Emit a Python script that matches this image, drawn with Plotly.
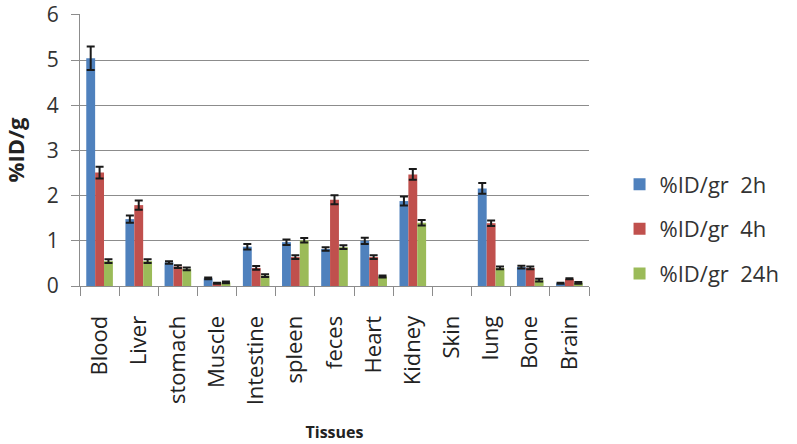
import plotly.graph_objects as go

tissues = ["Blood", "Liver", "stomach", "Muscle", "Intestine", "spleen", "feces",
           "Heart", "Kidney", "Skin", "lung", "Bone", "Brain"]

id_2h = [5.04, 1.48, 0.52, 0.17, 0.87, 0.97, 0.82, 1.00, 1.88, None, 2.16, 0.42, 0.06]
err_2h = [0.26, 0.08, 0.03, 0.02, 0.06, 0.06, 0.04, 0.07, 0.10, None, 0.12, 0.03, 0.01]

id_4h = [2.51, 1.79, 0.43, 0.06, 0.40, 0.64, 1.91, 0.64, 2.47, None, 1.39, 0.40, 0.16]
err_4h = [0.13, 0.10, 0.03, 0.01, 0.04, 0.04, 0.10, 0.04, 0.12, None, 0.06, 0.03, 0.01]

id_24h = [0.55, 0.55, 0.38, 0.08, 0.23, 1.01, 0.86, 0.21, 1.40, None, 0.40, 0.13, 0.07]
err_24h = [0.04, 0.04, 0.03, 0.02, 0.03, 0.05, 0.04, 0.02, 0.06, None, 0.03, 0.03, 0.02]

series_names = ["%ID/gr\u00a0 2h", "%ID/gr\u00a0 4h", "%ID/gr\u00a0 24h"]
colors = ["#4F81BD", "#C0504D", "#9BBB59"]

fig = go.Figure()
for name, vals, errs, col in zip(series_names, [id_2h, id_4h, id_24h],
                                 [err_2h, err_4h, err_24h], colors):
    fig.add_trace(go.Bar(
        x=tissues, y=vals, name=name, legendgroup=name,
        marker=dict(color=col, line=dict(width=0)),
        error_y=dict(type="data", array=errs, visible=True,
                     color="#1a1a1a", thickness=2, width=4),
    ))

font_family = "Open Sans"
fig.update_layout(
    width=797, height=444,
    margin=dict(l=80, r=183, t=14, b=158),
    paper_bgcolor="white", plot_bgcolor="white",
    barmode="group", bargap=0.32, bargroupgap=0,
    font=dict(family=font_family, color="#333333"),
    showlegend=True,
    legend=dict(
        x=1.06, xanchor="left", y=0.21, yanchor="middle",
        font=dict(size=22, color="#333333", family=font_family),
        traceorder="grouped", tracegroupgap=13,
        bgcolor="rgba(0,0,0,0)", borderwidth=0,
    ),
    xaxis=dict(
        type="category", categoryorder="array", categoryarray=tissues,
        tickangle=-90, tickson="boundaries",
        ticks="outside", ticklen=9, tickcolor="#8c8c8c",
        showline=True, linecolor="#8c8c8c", linewidth=1,
        showgrid=False,
        tickfont=dict(size=22, color="#222222", family=font_family),
        ticklabelstandoff=20,
        title=dict(text="<b>Tissues</b>", font=dict(size=16, color="#222222", family=font_family),
                   standoff=22),
        automargin=False,
    ),
    yaxis=dict(
        range=[0, 6.02], tickmode="linear", dtick=1, tick0=0,
        showgrid=True, gridcolor="#8c8c8c", gridwidth=1,
        showline=True, linecolor="#8c8c8c", linewidth=1,
        ticks="outside", ticklen=8, tickcolor="#8c8c8c",
        tickfont=dict(size=21, color="#333333", family=font_family),
        ticklabelstandoff=8, ticklabeloverflow="allow",
        zeroline=False,
        title=dict(text="<b>%ID/g</b>", font=dict(size=22, color="#222222", family=font_family),
                   standoff=18),
        automargin=False,
    ),
)

fig.write_html("out.html", config={"displayModeBar": False},
               post_script="document.body.style.margin='0';")
